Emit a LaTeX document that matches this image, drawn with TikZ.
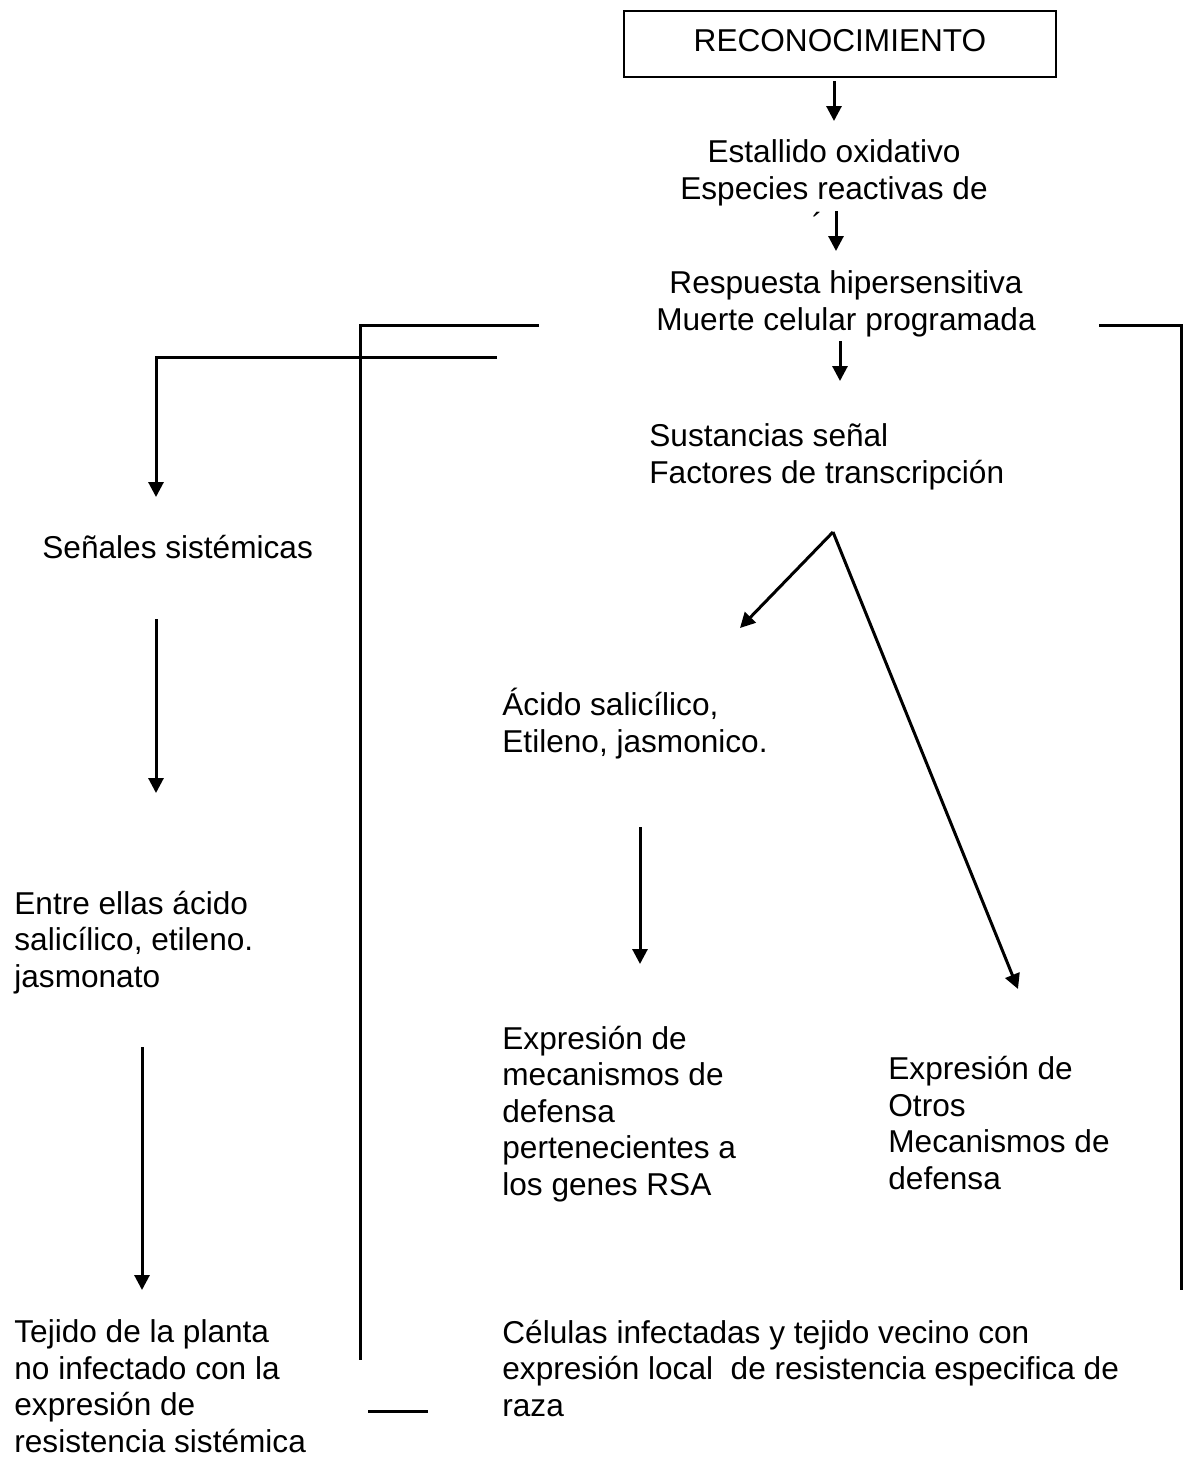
\documentclass[tikz,border=0pt]{standalone}
\usepackage{fontspec}
\setmainfont{Liberation Sans}
\usetikzlibrary{arrows.meta}

\tikzset{
    texto/.style={inner sep=0pt, align=left, anchor=base west},
    centro/.style={inner sep=0pt, align=center, anchor=base},
    linea/.style={line width=1.5pt},
    flecha/.style={linea, -{Triangle[width=7.5pt, length=7.5pt]}},
}

\begin{document}
\begin{tikzpicture}[x=0.5pt, y=-0.5pt, font=\fontsize{15.8pt}{18.2pt}\selectfont]
        \useasboundingbox (0, 0) rectangle (1183, 1458);

        % cadena central (base = ultima linea)
        \node[draw, line width=1pt, inner sep=0pt, minimum width=216pt, minimum height=33pt, text depth=4pt] (reco) at (840, 44) {RECONOCIMIENTO};
        \node[centro] (estallido) at (834, 199) {Estallido oxidativo\\Especies reactivas de};
        \begin{scope}
            \clip (760, 205) rectangle (900, 217);
            \node[centro] (oxigeno) at (834, 235) {oxígeno};
        \end{scope}
        \node[centro] (respuesta) at (846, 330) {Respuesta hipersensitiva\\Muerte celular programada};
        \node[texto] (sustancias) at (649, 483) {Sustancias señal\\Factores de transcripción};
        \node[texto] (acido) at (502, 752) {Ácido salicílico,\\Etileno, jasmonico.};
        \node[texto] (rsa) at (502, 1195) {Expresión de\\mecanismos de\\defensa\\pertenecientes a\\los genes RSA};
        \node[texto] (otros) at (888, 1189) {Expresión de\\Otros\\Mecanismos de\\defensa};
        \node[texto] (celulas) at (502, 1416) {Células infectadas y tejido vecino con\\expresión local\ \ de resistencia especifica de\\raza};

        % rama sistemica
        \node[texto] (senales) at (42, 558) {Señales sistémicas};
        \node[texto] (entre) at (14, 987) {Entre ellas ácido\\salicílico, etileno.\\jasmonato};
        \node[texto] (tejido) at (14, 1452) {Tejido de la planta\\no infectado con la\\expresión de\\resistencia sistémica};

        % extremos de las flechas
        \coordinate (r1) at (834, 81);   \coordinate (r2) at (834, 121);
        \coordinate (e1) at (836, 211);  \coordinate (e2) at (836, 251);
        \coordinate (m1) at (840, 341);  \coordinate (m2) at (840, 381);
        \coordinate (vx) at (833, 532);
        \coordinate (ai) at (740, 628);  \coordinate (ad) at (1018, 989);
        \coordinate (j1) at (640, 827);  \coordinate (j2) at (640, 964);
        \coordinate (s1) at (156, 619);  \coordinate (s2) at (156, 793);
        \coordinate (t1) at (142, 1047); \coordinate (t2) at (142, 1290);

        \foreach \a/\b in {r1/r2, e1/e2, m1/m2, vx/ai, vx/ad, j1/j2, s1/s2, t1/t2} {
            \draw[flecha] (\a) -- (\b);
        }

        % corchetes
        \coordinate (ci1) at (539, 325);  \coordinate (ci2) at (360, 1360);
        \coordinate (cs1) at (497, 357);  \coordinate (cs2) at (156, 497);
        \coordinate (cd1) at (1099, 325); \coordinate (cd2) at (1181, 1290);
        \coordinate (g1) at (368, 1411);  \coordinate (g2) at (428, 1411);
        \draw[linea] (ci1) -| (ci2);
        \draw[flecha] (cs1) -| (cs2);
        \draw[linea] (cd1) -| (cd2);
        \draw[linea] (g1) -- (g2);
    \end{tikzpicture}
\end{document}
